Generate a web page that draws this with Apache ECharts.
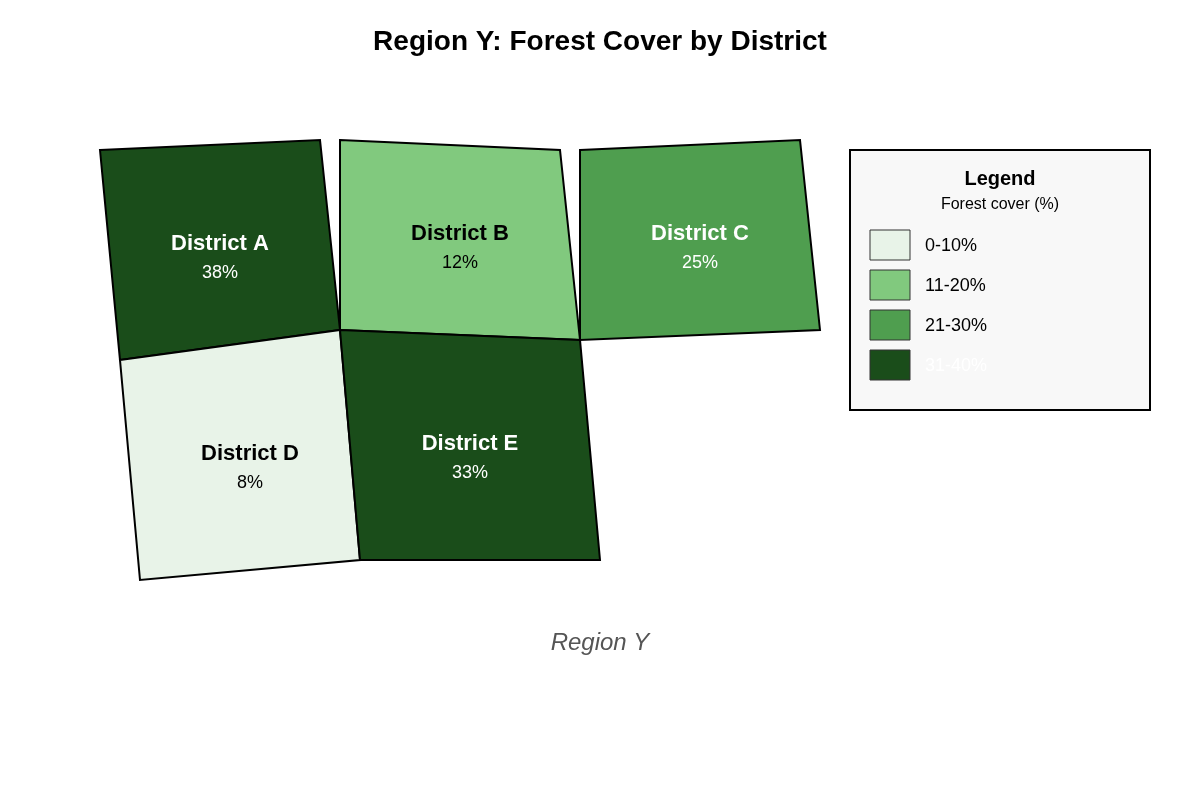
<!DOCTYPE html>
<html>
<head>
<meta charset="utf-8">
<script src="https://cdn.jsdelivr.net/npm/echarts@6/dist/echarts.min.js"></script>
<style>html,body{margin:0;padding:0;background:#fff}#main{width:1200px;height:800px}</style>
</head>
<body>
<div id="main"></div>
<script>
// district data
var districts = ['District A', 'District B', 'District C', 'District D', 'District E'];
var cover = [38, 12, 25, 8, 33];
// outline vertices of each district (page coordinate space)
var shapes = [
    [[100,150],[320,140],[340,330],[120,360]],
    [[340,140],[560,150],[580,340],[340,330]],
    [[580,150],[800,140],[820,330],[580,340]],
    [[120,360],[340,330],[360,560],[140,580]],
    [[340,330],[580,340],[600,560],[360,560]]
];
var labelPos = [[220,244],[460,234],[700,234],[250,454],[470,444]];
var bins = ['0-10%', '11-20%', '21-30%', '31-40%'];
var binColors = ['#e8f3e8', '#81c97e', '#4f9e4f', '#1a4d1a'];
var binText = ['#000', '#000', '#fff', '#fff'];

function binOf(v) { return v <= 10 ? 0 : v <= 20 ? 1 : v <= 30 ? 2 : 3; }

var myChart = echarts.init(document.getElementById('main'));

var legendGraphics = [
    {type: 'rect', shape: {x: 850, y: 150, width: 300, height: 260},
     style: {fill: '#f8f8f8', stroke: '#000', lineWidth: 2}},
    {type: 'text', x: 1000, y: 179, style: {text: 'Legend', font: 'bold 20px Liberation Sans, Arial', fill: '#000', align: 'center', verticalAlign: 'middle'}},
    {type: 'text', x: 1000, y: 205, style: {text: 'Forest cover (%)', font: '16px Liberation Sans, Arial', fill: '#000', align: 'center', verticalAlign: 'middle'}},
    {type: 'text', x: 600, y: 643, style: {text: 'Region Y', font: 'italic 24px Liberation Sans, Arial', fill: '#555', align: 'center', verticalAlign: 'middle'}}
];
bins.forEach(function (b, i) {
    legendGraphics.push({type: 'rect', shape: {x: 870, y: 230 + i * 40, width: 40, height: 30},
        style: {fill: binColors[i], stroke: '#333', lineWidth: 1}});
    legendGraphics.push({type: 'text', x: 925, y: 246 + i * 40,
        style: {text: b, font: '18px Liberation Sans, Arial', fill: i === 3 ? '#fff' : '#000', verticalAlign: 'middle'}});
});

var option = {
    animation: false,
    title: {
        text: 'Region Y: Forest Cover by District',
        left: 'center', top: 23,
        textStyle: {fontSize: 28, fontWeight: 'bold', color: '#000', fontFamily: 'Liberation Sans, Arial'}
    },
    grid: {left: 0, right: 0, top: 0, bottom: 0},
    xAxis: {type: 'value', min: 0, max: 1200, show: false},
    yAxis: {type: 'value', min: 0, max: 800, inverse: true, show: false},
    graphic: legendGraphics,
    series: [{
        type: 'custom',
        data: districts.map(function (d, i) { return [i, cover[i]]; }),
        renderItem: function (params, api) {
            var i = api.value(0), v = api.value(1), k = binOf(v);
            var pts = shapes[i].map(function (p) { return api.coord(p); });
            var lp = api.coord(labelPos[i]);
            return {
                type: 'group',
                children: [
                    {type: 'polygon', shape: {points: pts},
                     style: {fill: binColors[k], stroke: '#000', lineWidth: 2}},
                    {type: 'text', x: lp[0], y: lp[1],
                     style: {text: districts[i], font: 'bold 22px Liberation Sans, Arial', fill: binText[k], align: 'center', verticalAlign: 'middle'}},
                    {type: 'text', x: lp[0], y: lp[1] + 29,
                     style: {text: v + '%', font: '18px Liberation Sans, Arial', fill: binText[k], align: 'center', verticalAlign: 'middle'}}
                ]
            };
        }
    }]
};
myChart.setOption(option);
</script>
</body>
</html>
